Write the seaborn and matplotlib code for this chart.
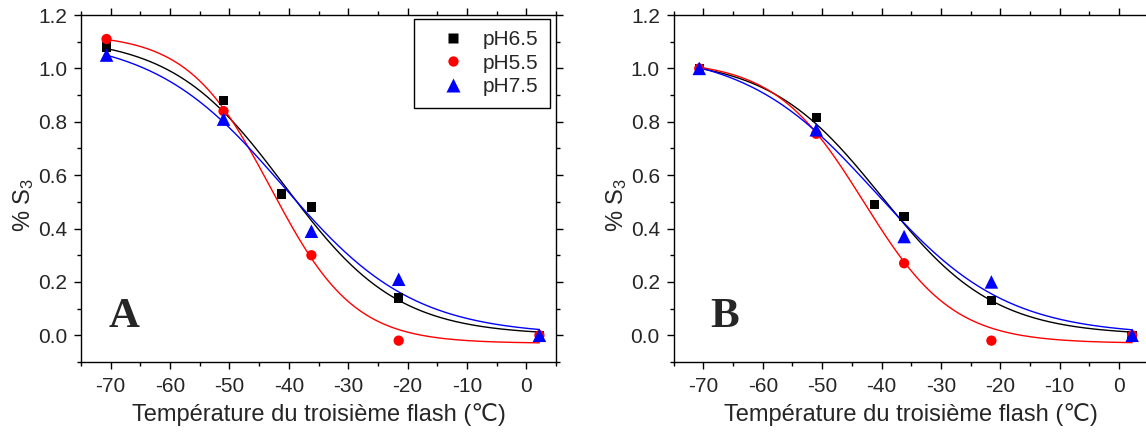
import numpy as np
import pandas as pd
import matplotlib
matplotlib.use("Agg")
import matplotlib.pyplot as plt
import seaborn as sns
from matplotlib.ticker import MultipleLocator


temp_all = [-70.7, -51.0, -41.2, -36.2, -21.5, 2.2]
temp_sub = [-70.7, -51.0, -36.2, -21.5, 2.2]

ph65_a = [1.08, 0.88, 0.53, 0.48, 0.14, 0.0]
ph55_a = [1.11, 0.84, 0.30, -0.02, 0.0]
ph75_a = [1.05, 0.81, 0.39, 0.21, 0.0]

ph65_b = [1.00, 0.815, 0.49, 0.445, 0.13, 0.0]
ph55_b = [1.00, 0.755, 0.27, -0.02, 0.0]
ph75_b = [1.00, 0.77, 0.37, 0.20, 0.0]

series = ["pH6.5", "pH5.5", "pH7.5"]
colors = {"pH6.5": "black", "pH5.5": "red", "pH7.5": "blue"}
markers = {"pH6.5": "s", "pH5.5": "o", "pH7.5": "^"}
marker_area = {"pH6.5": 46, "pH5.5": 55, "pH7.5": 95}

# Boltzmann fit parameters (A1, A2, x0, dx) as drawn in the figure
fit_a = {
    "pH6.5": [1.12, 0.0, -40.7, 9.5],
    "pH5.5": [1.13, -0.03, -43.0, 7.0],
    "pH7.5": [1.12, 0.0, -41.0, 11.0],
}
fit_b = {
    "pH6.5": [1.04, 0.0, -40.0, 9.5],
    "pH5.5": [1.03, -0.03, -43.0, 7.5],
    "pH7.5": [1.07, 0.0, -41.0, 11.0],
}

x_ticks = [-70, -60, -50, -40, -30, -20, -10, 0]
y_ticks = [0.0, 0.2, 0.4, 0.6, 0.8, 1.0, 1.2]


def boltzmann(x, a1, a2, x0, dx):
    return a2 + (a1 - a2) / (1 + np.exp((x - x0) / dx))


def points_frame(ph65, ph55, ph75):
    rows = []
    for t, v in zip(temp_all, ph65):
        rows.append(("pH6.5", t, v))
    for t, v in zip(temp_sub, ph55):
        rows.append(("pH5.5", t, v))
    for t, v in zip(temp_sub, ph75):
        rows.append(("pH7.5", t, v))
    return pd.DataFrame(rows, columns=["pH", "temp", "s3"])


sns.set_style("ticks")
plt.rcParams["font.family"] = ["Liberation Sans", "DejaVu Sans"]
plt.rcParams["mathtext.fontset"] = "custom"
plt.rcParams["mathtext.rm"] = "Liberation Sans"
plt.rcParams["mathtext.it"] = "Liberation Sans"

fig = plt.figure(figsize=(11.46, 4.34), dpi=100)

ax_a = fig.add_axes([0.0707, 0.1659, 0.4145, 0.7995])
ax_b = fig.add_axes([0.5879, 0.1659, 0.4145, 0.7995])

panels = [
    (ax_a, points_frame(ph65_a, ph55_a, ph75_a), fit_a, "A", 0.059),
    (ax_b, points_frame(ph65_b, ph55_b, ph75_b), fit_b, "B", 0.076),
]

for ax, df, fits, tag, tag_x in panels:

    xs = np.linspace(min(temp_all), max(temp_all), 300)

    for name in series:
        sns.lineplot(
            x=xs,
            y=boltzmann(xs, *fits[name]),
            color=colors[name],
            linewidth=1.0,
            ax=ax,
            legend=False,
        )

    sns.scatterplot(
        data=df,
        x="temp",
        y="s3",
        hue="pH",
        style="pH",
        size="pH",
        hue_order=series,
        style_order=series,
        size_order=series,
        palette=colors,
        markers=markers,
        sizes=marker_area,
        edgecolor="none",
        ax=ax,
        zorder=3,
    )

    ax.set_xlim(-75, 5)
    ax.set_ylim(-0.1, 1.2)
    ax.set_xticks(x_ticks)
    ax.set_yticks(y_ticks)
    ax.set_xticklabels([str(t) for t in x_ticks])
    ax.set_yticklabels([f"{t:.1f}" for t in y_ticks])
    ax.xaxis.set_minor_locator(MultipleLocator(5))
    ax.yaxis.set_minor_locator(MultipleLocator(0.1))

    ax.tick_params(which="both", direction="out", top=True, right=True,
                   color="black", width=1.0, labelsize=15)
    ax.tick_params(axis="x", pad=6)
    ax.tick_params(axis="y", pad=5)
    ax.tick_params(which="major", length=5)
    ax.tick_params(which="minor", length=3)

    for sp in ax.spines.values():
        sp.set_visible(True)
        sp.set_color("black")
        sp.set_linewidth(1.0)

    ax.set_xlabel("Température du troisième flash (\u2103)", fontsize=17,
                  labelpad=5)
    ax.set_ylabel("% S$_3$", fontsize=17, va="center")
    ax.yaxis.set_label_coords(-0.12, 0.452)

    ax.text(tag_x, 0.101, tag, transform=ax.transAxes,
            family="Liberation Serif", fontweight="bold", fontsize=31,
            ha="left", va="baseline")

    handles, labels = ax.get_legend_handles_labels()
    ax.get_legend().remove()

    if tag == "A":
        leg = ax.legend(
            handles, labels,
            loc="upper right",
            bbox_to_anchor=(0.9874, 0.9893),
            borderaxespad=0,
            fontsize=15,
            frameon=True,
            fancybox=False,
            framealpha=1,
            edgecolor="black",
            borderpad=0.55,
            handlelength=2.6,
            handletextpad=0.15,
            labelspacing=0.22,
        )
        leg.get_frame().set_linewidth(1.0)

fig.savefig("out.png", dpi=100)
